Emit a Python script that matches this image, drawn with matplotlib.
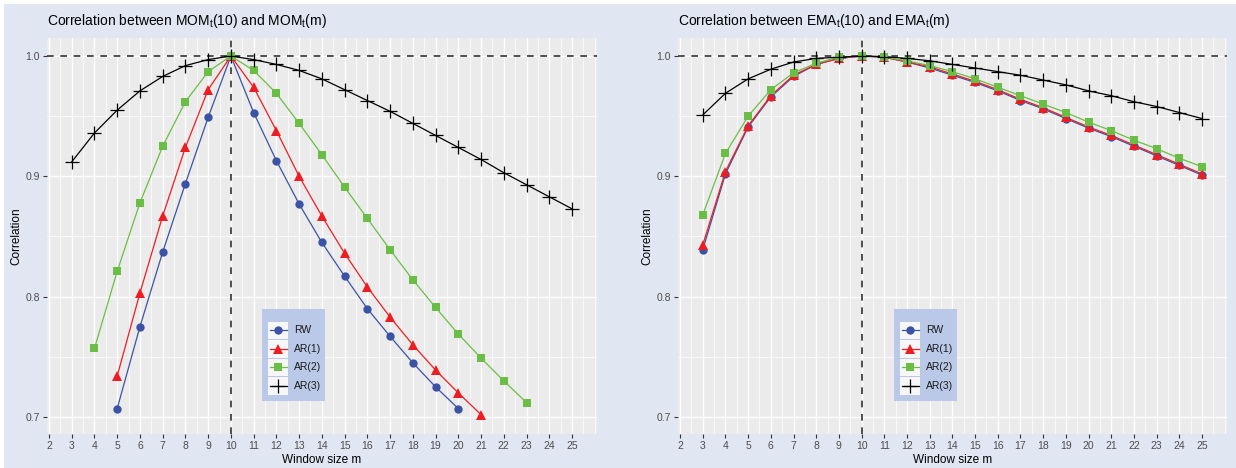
import matplotlib
matplotlib.use("Agg")
import matplotlib.pyplot as plt
from matplotlib.patches import Rectangle
from matplotlib.lines import Line2D
from matplotlib.ticker import MultipleLocator

plt.rcParams["font.family"] = ["Liberation Sans", "DejaVu Sans"]
plt.rcParams["mathtext.fontset"] = "custom"
plt.rcParams["mathtext.rm"] = "Liberation Sans"

# ---- данные: корреляции ----
m_mom_rw = list(range(5, 21))
mom_rw = [0.707, 0.775, 0.837, 0.894, 0.949, 1.0, 0.953, 0.913, 0.877, 0.845,
          0.817, 0.790, 0.767, 0.745, 0.725, 0.707]
m_mom_ar1 = list(range(5, 22))
mom_ar1 = [0.734, 0.803, 0.867, 0.924, 0.972, 1.0, 0.974, 0.938, 0.900, 0.867,
           0.836, 0.808, 0.783, 0.760, 0.739, 0.720, 0.702]
m_mom_ar2 = list(range(4, 24))
mom_ar2 = [0.757, 0.821, 0.878, 0.925, 0.962, 0.987, 1.0, 0.988, 0.969, 0.944,
           0.918, 0.891, 0.865, 0.839, 0.814, 0.791, 0.769, 0.749, 0.730, 0.712]
m_mom_ar3 = list(range(3, 26))
mom_ar3 = [0.912, 0.936, 0.955, 0.971, 0.983, 0.992, 0.997, 1.0, 0.997, 0.993,
           0.988, 0.981, 0.972, 0.963, 0.954, 0.944, 0.934, 0.924, 0.914, 0.903,
           0.893, 0.883, 0.873]

m_ema = list(range(3, 26))
ema_rw = [0.839, 0.902, 0.941, 0.966, 0.983, 0.993, 0.998, 1.0, 0.999, 0.995,
          0.990, 0.984, 0.978, 0.971, 0.963, 0.956, 0.948, 0.940, 0.933, 0.925,
          0.917, 0.909, 0.901]
ema_ar1 = [0.843, 0.904, 0.942, 0.967, 0.984, 0.993, 0.998, 1.0, 0.999, 0.995,
           0.991, 0.985, 0.979, 0.972, 0.964, 0.957, 0.949, 0.941, 0.934, 0.926,
           0.918, 0.910, 0.902]
ema_ar2 = [0.868, 0.919, 0.950, 0.972, 0.986, 0.994, 0.999, 1.0, 0.999, 0.996,
           0.992, 0.987, 0.981, 0.974, 0.967, 0.960, 0.953, 0.945, 0.938, 0.930,
           0.923, 0.915, 0.908]
ema_ar3 = [0.951, 0.969, 0.981, 0.989, 0.995, 0.998, 0.999, 1.0, 0.9995, 0.998,
           0.996, 0.993, 0.990, 0.987, 0.984, 0.980, 0.976, 0.971, 0.967, 0.962,
           0.958, 0.953, 0.948]

labels = ["RW", "AR(1)", "AR(2)", "AR(3)"]
x_ticks = list(range(2, 26))
y_ticks = [0.7, 0.8, 0.9, 1.0]

# стили серий
STYLES = [
    dict(color="#3B53A4", marker="o", ms=6.0, mew=0),
    dict(color="#EE1D23", marker="^", ms=7.0, mew=0),
    dict(color="#6BBE45", marker="s", ms=6.0, mew=0),
    dict(color="#000000", marker="+", ms=10.0, mew=0.9),
]

W, H = 1236, 468
BG = "#E1E6F3"
PANEL = "#EBEBEB"
LEG_BG = "#B9C9E7"


def draw_panel(ax, series, title):
    ax.set_facecolor(PANEL)
    for s in ax.spines.values():
        s.set_visible(False)
    ax.set_xlim(1.9, 26.1)
    ax.set_ylim(0.6856, 1.0152)
    ax.set_xticks(x_ticks)
    ax.set_yticks(y_ticks)
    ax.set_yticklabels([f"{v:.1f}" for v in y_ticks])
    ax.xaxis.set_minor_locator(MultipleLocator(0.5))
    ax.yaxis.set_minor_locator(MultipleLocator(0.05))
    ax.tick_params(which="major", length=3, width=0.8, color="#333333",
                   labelcolor="#4D4D4D", labelsize=7.5, pad=2)
    ax.tick_params(which="minor", length=0)
    ax.grid(which="major", color="white", linewidth=1.0)
    ax.grid(which="minor", color="white", linewidth=0.5)
    ax.set_axisbelow(True)

    ax.axhline(1.0, color="#333333", linestyle=(0, (4, 4)), linewidth=1.2, zorder=2)
    ax.axvline(10, color="#333333", linestyle=(0, (4, 4)), linewidth=1.2, zorder=2)

    for i, ((xs, ys), st) in enumerate(zip(series, STYLES)):
        ax.plot(xs, ys, color=st["color"], linewidth=0.9, zorder=3 + i * 0.1)
    for i, ((xs, ys), st) in enumerate(zip(series, STYLES)):
        ax.plot(xs, ys, linestyle="none", marker=st["marker"], markersize=st["ms"],
                color=st["color"], markeredgewidth=st["mew"],
                markeredgecolor=st["color"], zorder=4 + i * 0.1)

    ax.set_title(title, loc="left", fontsize=10, pad=9)
    ax.set_xlabel("Window size m", fontsize=8.5, labelpad=2)
    ax.set_ylabel("Correlation", fontsize=8.5, labelpad=2)


def draw_legend(fig, x0, y0):
    # легенда в стиле ggplot: голубой фон, белые квадраты под ключами
    lw_, lh = 63, 92
    lax = fig.add_axes([x0 / W, 1 - (y0 + lh) / H, lw_ / W, lh / H])
    lax.set_xlim(0, lw_)
    lax.set_ylim(lh, 0)
    lax.axis("off")
    lax.add_patch(Rectangle((0, 0), lw_, lh, facecolor=LEG_BG, edgecolor="none"))
    key_h = 18.5
    for i, (lab, st) in enumerate(zip(labels, STYLES)):
        ky = 12 + i * key_h
        lax.add_patch(Rectangle((6, ky + 0.5), 20, key_h - 1, facecolor="#F7F7F7",
                                edgecolor="none"))
        cy = ky + key_h / 2
        lax.add_line(Line2D([7.5, 24.5], [cy, cy], color=st["color"], linewidth=0.9))
        lax.add_line(Line2D([16], [cy], marker=st["marker"], markersize=st["ms"],
                            color=st["color"], markeredgewidth=st["mew"],
                            markeredgecolor=st["color"]))
        lax.text(32, cy, lab, fontsize=7.5, va="center", ha="left", color="#1A1A1A")


fig = plt.figure(figsize=(W / 100, H / 100), dpi=100, facecolor="white")
fig.patches.append(Rectangle((4 / W, 0), 1, 1 - 4 / H, transform=fig.transFigure,
                             facecolor=BG, edgecolor="none", zorder=-10))

ax1 = fig.add_axes([46.7 / W, 1 - 434.3 / H, 550.3 / W, 396.6 / H])
ax2 = fig.add_axes([677.8 / W, 1 - 434.3 / H, 549.2 / W, 396.6 / H])

draw_panel(ax1, [(m_mom_rw, mom_rw), (m_mom_ar1, mom_ar1),
                 (m_mom_ar2, mom_ar2), (m_mom_ar3, mom_ar3)],
           r"Correlation between MOM$_\mathrm{t}$(10) and MOM$_\mathrm{t}$(m)")
draw_panel(ax2, [(m_ema, ema_rw), (m_ema, ema_ar1),
                 (m_ema, ema_ar2), (m_ema, ema_ar3)],
           r"Correlation between EMA$_\mathrm{t}$(10) and EMA$_\mathrm{t}$(m)")

draw_legend(fig, 262, 309)
draw_legend(fig, 894, 309)

fig.savefig("out.png", dpi=100, facecolor=fig.get_facecolor())
